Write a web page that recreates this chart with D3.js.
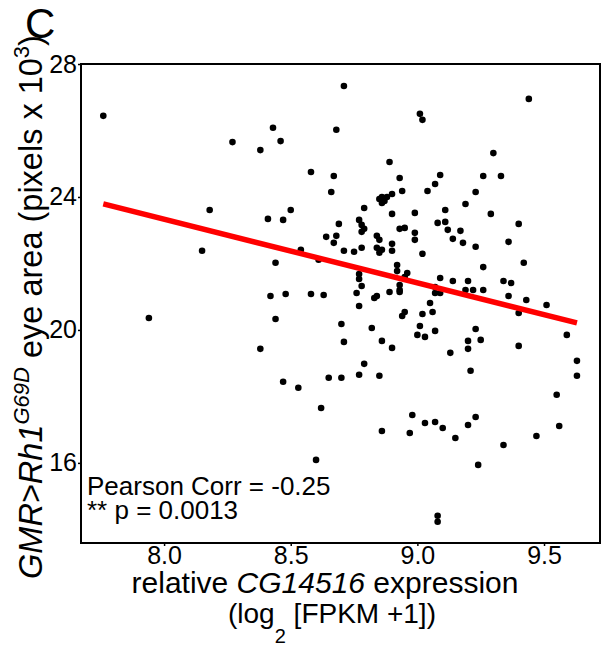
<!DOCTYPE html>
<html>
<head>
<meta charset="utf-8">
<script src="https://cdn.jsdelivr.net/npm/d3@7"></script>
<style>
  html, body { margin: 0; padding: 0; background: #fff; }
  svg { display: block; font-family: "Liberation Sans", Arial, Helvetica, sans-serif; }
</style>
</head>
<body>
<svg id="chart" width="603" height="652"></svg>
<script>
// relative CG14516 expression, log2(FPKM + 1)
const expression = [
  7.76, 8.27, 8.43, 8.46, 8.38, 8.68, 8.58, 8.67, 8.66, 8.18,
  8.41, 8.47, 8.50, 8.69, 8.64, 8.68, 8.67, 8.15, 8.54, 8.61,
  8.44, 8.42, 8.48, 8.58, 8.63, 8.71, 9.44, 9.01, 9.02, 9.30,
  8.89, 8.93, 9.09, 9.26, 9.33, 9.07, 9.04, 8.94, 9.23, 8.85,
  8.86, 8.88, 8.90, 8.86, 8.87, 9.19, 8.79, 9.11, 8.90, 8.99,
  9.29, 8.77, 8.78, 8.79, 8.78, 9.08, 9.11, 9.40, 8.93, 8.95,
  9.12, 9.17, 8.84, 8.85, 8.99, 8.99, 8.90, 9.14, 9.18, 9.36,
  8.71, 8.75, 8.78, 8.84, 8.85, 8.86, 8.90, 9.02, 9.23, 9.42,
  9.26, 8.92, 8.92, 8.96, 8.95, 8.77, 8.77, 8.78, 8.93, 8.93,
  8.93, 9.09, 9.14, 9.20, 9.07, 9.07, 9.09, 9.19, 9.22, 9.26,
  9.34, 9.37, 9.36, 9.43, 8.76, 8.83, 8.84, 8.89, 9.51, 9.40,
  9.05, 9.06, 9.02, 8.94, 8.95, 8.77, 8.44, 8.70, 8.82, 9.01,
  9.00, 9.03, 9.07, 9.23, 9.59, 7.94, 8.38, 8.71, 8.86, 8.90,
  9.13, 9.20, 9.20, 9.25, 9.40, 9.63, 9.63, 8.79, 9.21, 8.47,
  8.53, 8.65, 8.70, 8.77, 8.85, 9.55, 8.62, 8.98, 9.03, 9.07,
  9.10, 9.23, 9.20, 8.86, 8.97, 9.15, 9.56, 9.47, 9.34, 9.24,
  8.60, 9.08, 9.08
];

// GMR>Rh1[G69D] eye area, pixels x 10^3
const eyeArea = [
  26.44, 25.65, 26.08, 25.68, 25.41, 26.02, 24.75, 24.63, 24.15, 23.61,
  23.34, 23.31, 23.61, 23.19, 22.80, 22.83, 22.62, 22.38, 22.41, 22.11,
  22.02, 21.02, 21.08, 21.08, 21.05, 27.34, 26.95, 26.50, 26.32, 25.32,
  25.05, 24.57, 24.66, 24.63, 24.63, 24.39, 24.18, 24.18, 24.15, 23.94,
  24.00, 24.00, 24.09, 23.82, 23.88, 23.79, 23.67, 23.61, 23.49, 23.52,
  23.49, 23.31, 23.16, 23.04, 22.95, 23.22, 23.25, 23.19, 23.04, 23.07,
  23.01, 22.98, 22.83, 22.71, 22.92, 22.71, 22.59, 22.74, 22.62, 22.65,
  22.38, 22.35, 22.47, 22.47, 22.32, 22.41, 22.38, 22.29, 22.50, 22.02,
  21.89, 21.95, 21.77, 21.71, 21.59, 21.68, 21.53, 21.32, 21.35, 21.20,
  21.14, 21.56, 21.47, 21.47, 21.29, 21.11, 21.11, 21.20, 21.20, 21.20,
  21.47, 21.41, 21.02, 20.90, 21.11, 20.96, 21.02, 21.14, 20.75, 20.51,
  20.81, 20.54, 20.48, 20.42, 20.54, 20.72, 20.33, 20.18, 20.06, 20.12,
  19.85, 19.79, 19.97, 20.03, 19.85, 20.36, 19.43, 19.64, 19.67, 19.46,
  19.31, 19.67, 19.43, 19.70, 19.52, 19.07, 18.62, 18.98, 18.77, 18.44,
  18.26, 18.56, 18.56, 18.65, 18.62, 18.05, 17.65, 17.44, 17.20, 17.23,
  17.05, 17.38, 17.14, 16.96, 16.90, 16.75, 17.11, 16.81, 16.54, 15.94,
  16.09, 14.41, 14.23
];

// least-squares fit, drawn between the extreme expression values
const fitX = [7.76, 9.63];
const fitY = [23.79, 20.21];

const xTicks = [8.0, 8.5, 9.0, 9.5];
const yTicks = [16, 20, 24, 28];

const pearsonText = "Pearson Corr = -0.25";
const pText = "** p = 0.0013";

const frame = { left: 81, right: 600, top: 64, bottom: 543 };

const svg = d3.select("#chart");

const x = d3.scaleLinear().domain([7.672, 9.721]).range([frame.left, frame.right]);
const y = d3.scaleLinear().domain([13.59, 28]).range([frame.bottom, frame.top]);

// axes
const xAxis = svg.append("g")
  .attr("transform", `translate(0,${frame.bottom})`)
  .call(d3.axisBottom(x).tickValues(xTicks).tickFormat(d3.format(".1f")).tickSize(3).tickPadding(0));
const yAxis = svg.append("g")
  .attr("transform", `translate(${frame.left},0)`)
  .call(d3.axisLeft(y).tickValues(yTicks).tickSize(3).tickPadding(1));

[xAxis, yAxis].forEach(g => {
  g.select(".domain").remove();
  g.selectAll(".tick line").attr("stroke", "#000").attr("stroke-width", 1.5);
  g.selectAll(".tick text")
    .attr("fill", "#000")
    .style("font-family", '"Liberation Sans", Arial, sans-serif')
    .style("font-size", "25px");
});

// scatter points
const pts = expression.map((v, i) => [v, eyeArea[i]]);
svg.append("g")
  .selectAll("circle")
  .data(pts)
  .join("circle")
  .attr("cx", d => x(d[0]))
  .attr("cy", d => y(d[1]))
  .attr("r", 3.3)
  .attr("fill", "#000");

// regression line
svg.append("line")
  .attr("x1", x(fitX[0])).attr("y1", y(fitY[0]))
  .attr("x2", x(fitX[1])).attr("y2", y(fitY[1]))
  .attr("stroke", "#ff0000")
  .attr("stroke-width", 5.5);

// plot frame
svg.append("rect")
  .attr("x", frame.left).attr("y", frame.top)
  .attr("width", frame.right - frame.left)
  .attr("height", frame.bottom - frame.top)
  .attr("fill", "none")
  .attr("stroke", "#000")
  .attr("stroke-width", 2);

// statistics annotation
svg.append("text")
  .attr("x", 87).attr("y", 495)
  .style("font-size", "26px")
  .text(pearsonText);
svg.append("text")
  .attr("x", 87).attr("y", 519)
  .style("font-size", "26px")
  .text(pText);

// x-axis title
const xt1 = svg.append("text")
  .attr("x", 325).attr("y", 593)
  .attr("text-anchor", "middle")
  .style("font-size", "30px");
xt1.append("tspan").text("relative ");
xt1.append("tspan").style("font-style", "italic").text("CG14516");
xt1.append("tspan").text(" expression");

const xt2 = svg.append("text")
  .attr("x", 332).attr("y", 623)
  .attr("text-anchor", "middle")
  .style("font-size", "28px");
xt2.append("tspan").text("(log");
xt2.append("tspan").attr("dy", 20).style("font-size", "20px").text("2");
xt2.append("tspan").attr("dy", -20).text(" [FPKM +1])");

// y-axis title
const yt = svg.append("text")
  .attr("transform", "translate(42,307) rotate(-90)")
  .attr("text-anchor", "middle")
  .style("font-size", "32.5px");
yt.append("tspan").style("font-style", "italic").text("GMR>Rh1");
yt.append("tspan").attr("dy", -13).style("font-style", "italic").style("font-size", "22px").text("G69D");
yt.append("tspan").attr("dy", 13).text(" eye area (pixels x 10");
yt.append("tspan").attr("dy", -13).style("font-size", "22px").text("3");
yt.append("tspan").attr("dy", 13).text(")");

// panel letter
svg.append("text")
  .attr("x", 25).attr("y", 38)
  .style("font-size", "42px")
  .text("C");
</script>
</body>
</html>
